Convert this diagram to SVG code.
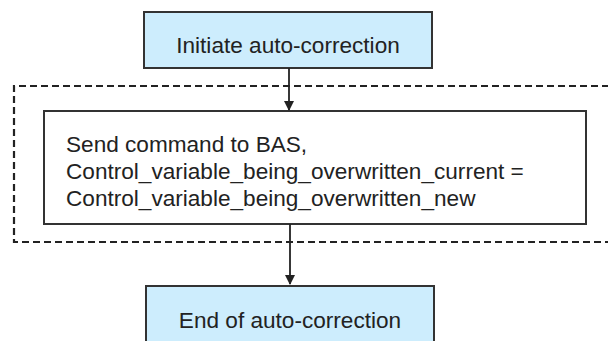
<svg xmlns="http://www.w3.org/2000/svg" width="608" height="341" viewBox="0 0 608 341">
<style>
.term{fill:#cdedfd;stroke:#333;stroke-width:2}
.proc{fill:#fff;stroke:#333;stroke-width:2}
.grp{fill:none;stroke:#222;stroke-width:2.2;stroke-dasharray:7 4}
.t{font-family:"Liberation Sans",Arial,sans-serif;font-size:22.6px;fill:#222}
.c{stroke:#222;stroke-width:1.8;fill:none}
</style>
<defs>
<marker id="ah" markerWidth="10" markerHeight="10" refX="9" refY="5" orient="auto" markerUnits="userSpaceOnUse">
<path d="M0,0 L10,5 L0,10 z" fill="#222"/>
</marker>
</defs>
<rect width="608" height="341" fill="#fff"/>
<g id="group-box">
<path class="grp" d="M620,86 L14,86 L14,242 L620,242"/>
</g>
<g id="start">
<rect class="term" x="144" y="12" width="288" height="56"/>
<text class="t" x="288" y="53" text-anchor="middle">Initiate auto-correction</text>
</g>
<g id="process">
<rect class="proc" x="44" y="111" width="542" height="113"/>
<text class="t" x="66" y="152">Send command to BAS,</text>
<text class="t" x="66" y="179">Control_variable_being_overwritten_current =</text>
<text class="t" x="66" y="206">Control_variable_being_overwritten_new</text>
</g>
<g id="end">
<rect class="term" x="146" y="286" width="288" height="64"/>
<text class="t" x="290" y="328" text-anchor="middle">End of auto-correction</text>
</g>
<g id="connectors">
<path class="c" d="M289,68 L289,110" marker-end="url(#ah)"/>
<path class="c" d="M290,224 L290,284" marker-end="url(#ah)"/>
</g>
</svg>
